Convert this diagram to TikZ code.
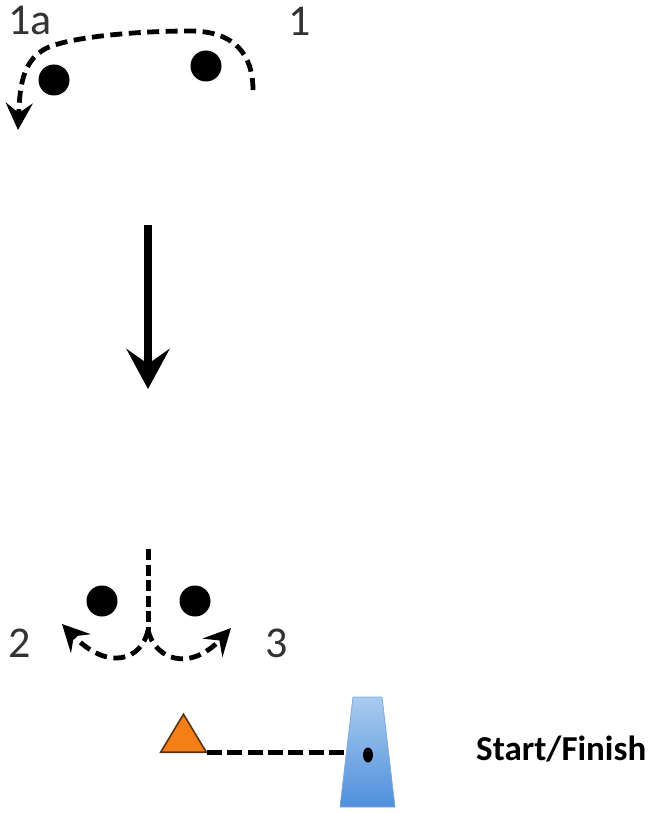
\documentclass[tikz,border=0pt]{standalone}
\usepackage{fontspec}
\setmainfont{Carlito}
\usetikzlibrary{arrows.meta,shapes.geometric}
\definecolor{trapTop}{HTML}{A9CBEF}
\definecolor{trapBot}{HTML}{4F8FDC}
\definecolor{trapEdge}{HTML}{7FA9DC}
\definecolor{triFill}{HTML}{F57F17}
\definecolor{triEdge}{HTML}{5A3210}
\tikzset{
  dot/.style={circle,fill=black,inner sep=0pt,minimum size=31pt},
  numlabel/.style={font=\fontsize{44}{44}\selectfont,text=black!80,inner sep=0pt},
  route/.style={draw=black,line width=4.8pt,dash pattern=on 12pt off 6.5pt},
  tipped/.style={route,-{Stealth[length=27pt,width=27pt,inset=10pt]}},
}
\begin{document}
\begin{tikzpicture}[x=1pt,y=-1pt]
\useasboundingbox (0,0) rectangle (650,813);
% top group
\node[dot] (d1a) at (54,80) {};
\node[dot] (d1) at (206,66) {};
\node[numlabel] (l1a) at (30,21) {1a};
\node[numlabel] (l1) at (300,21) {1};
\coordinate (s1) at (253,90);
\coordinate (e1) at (18,130);
\draw[tipped] (s1) .. controls (253,55) and (235,31) .. (190,31)
  .. controls (140,31) and (85,36) .. (58,44)
  .. controls (22,53) and (20,85) .. (e1);
% main arrow
\coordinate (m0) at (148,225);
\coordinate (m1) at (148,389);
\draw[line width=8.5pt,-{Stealth[length=40pt,width=43pt,inset=15pt]}] (m0) -- (m1);
% bottom group
\node[dot] (d2) at (102,601) {};
\node[dot] (d3) at (195,601) {};
\node[numlabel] (l2) at (20,643) {2};
\node[numlabel] (l3) at (277,643) {3};
\coordinate (c0) at (148,549);
\coordinate (c1) at (148,630);
\coordinate (e2) at (62,624);
\coordinate (e3) at (231,628);
\draw[route,line width=5pt,dash pattern=on 11pt off 4.5pt] (c0) -- (c1);
\draw[tipped] (c1) .. controls (142,660) and (108,672) .. (e2);
\draw[tipped] (c1) .. controls (155,660) and (190,672) .. (e3);
% start
\node[isosceles triangle,isosceles triangle apex angle=62,shape border rotate=90,
  draw=triEdge,fill=triFill,line width=1.6pt,inner sep=0pt,minimum height=38pt,minimum width=45pt,anchor=south] (tri) at (183.5,753) {};
\shade[top color=trapTop,bottom color=trapBot,draw=trapEdge,line width=0.8pt] (353,697) -- (382,697) -- (395,807) -- (340,807) -- cycle;
\node[ellipse,fill=black,inner sep=0pt,minimum width=10pt,minimum height=15pt] (gate) at (368,755) {};
\coordinate (t1) at (207,752);
\coordinate (t2) at (345,752);
\draw[route,line width=5pt,dash pattern=on 15pt off 5.3pt] (t1) -- (t2);
\node[font=\fontsize{35}{35}\selectfont\bfseries,anchor=base west,inner sep=0pt] (sf) at (476,760) {Start/Finish};
\end{tikzpicture}
\end{document}
